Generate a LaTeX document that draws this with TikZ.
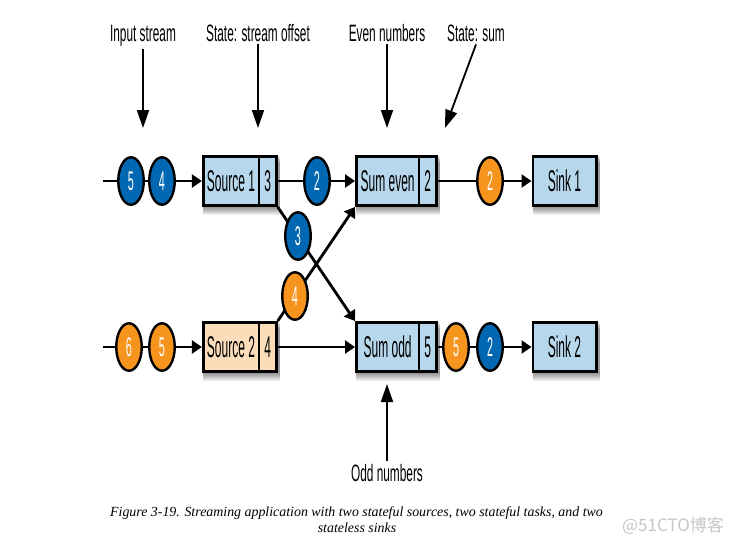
\documentclass[tikz,border=0pt]{standalone}
\usepackage{fontspec}
\setmainfont{Liberation Sans}
\newfontfamily\labfont[FakeStretch=0.5]{Liberation Sans}
\newfontfamily\boxfont[FakeStretch=0.4]{Liberation Sans}
\newfontfamily\capfont{Liberation Serif}
\newfontfamily\cjk{Noto Sans CJK SC}
\usetikzlibrary{arrows.meta,shapes.geometric}
\pgfdeclarelayer{shadowlayer}
\pgfdeclarelayer{background}
\pgfsetlayers{shadowlayer,background,main}
\definecolor{dotblue}{RGB}{0,103,178}
\definecolor{dotorange}{RGB}{247,148,30}
\definecolor{boxblue}{RGB}{183,215,236}
\definecolor{boxpeach}{RGB}{252,221,185}
\tikzset{
  opbox/.style={draw=black, line width=2.6pt, fill=boxblue, minimum height=49.4pt,
    inner sep=0pt, font=\boxfont\fontsize{30}{30}\selectfont},
  statebox/.style={opbox, minimum width=17.6pt, anchor=west, xshift=-2.6pt},
  token/.style={ellipse, draw=black, line width=2.4pt, minimum width=25.5pt,
    minimum height=47.5pt, inner sep=0pt, text=white,
    font=\boxfont\fontsize{27}{27}\selectfont},
  blue token/.style={token, fill=dotblue},
  orange token/.style={token, fill=dotorange},
  conn/.style={draw=black, line width=2.8pt},
  arr/.style={conn, -{Triangle[length=10pt,width=13pt]}},
  lab/.style={font=\labfont\fontsize{23.7}{24}\selectfont, anchor=base, inner sep=3pt},
  labarrow/.style={draw=black, line width=1.8pt, -{Triangle[length=18pt,width=12pt]}},
  captext/.style={font=\capfont\itshape\fontsize{13.9}{14}\selectfont, anchor=base, inner sep=0pt},
  shadowfill/.style={fill=black, opacity=0.06}
}
\begin{document}
\begin{tikzpicture}[x=1pt,y=-1pt]
\begin{pgfonlayer}{shadowlayer}
\fill[white] (0,0) rectangle (729,542);
\end{pgfonlayer}
\useasboundingbox (0,0) rectangle (729,542);

% boxes
\node[opbox, minimum width=55.6pt] (src1) at (231,181) {Source 1};
\node[statebox] (src1s) at (src1.east) {3};
\node[opbox, minimum width=62.6pt] (sumev) at (387.6,181) {Sum even};
\node[statebox] (sumevs) at (sumev.east) {2};
\node[opbox, minimum width=63.4pt] (sink1) at (564.5,181) {Sink 1};
\node[opbox, fill=boxpeach, minimum width=55.6pt] (src2) at (231,347) {Source 2};
\node[statebox, fill=boxpeach] (src2s) at (src2.east) {4};
\node[opbox, minimum width=62.6pt] (sumodd) at (387.6,347) {Sum odd};
\node[statebox] (sumodds) at (sumodd.east) {5};
\node[opbox, minimum width=63.4pt] (sink2) at (564.5,347) {Sink 2};

% tokens
\node[blue token] (t5a) at (131,181) {5};
\node[blue token] (t4a) at (162,181) {4};
\node[blue token] (t2a) at (317,181) {2};
\node[orange token] (t2b) at (490,181) {2};
\node[blue token] (t3) at (298,236) {3};
\node[orange token] (t4b) at (295,296) {4};
\node[orange token] (t6) at (129,347) {6};
\node[orange token] (t5b) at (162,347) {5};
\node[orange token] (t5c) at (456,347) {5};
\node[blue token] (t2c) at (490,347) {2};

\coordinate (in1) at (103,181);
\coordinate (in2) at (103,347);

% shadows
\begin{pgfonlayer}{shadowlayer}
\foreach \a/\b in {src1/src1s, sumev/sumevs, sink1/sink1, src2/src2s, sumodd/sumodds, sink2/sink2}{
  \foreach \k in {1,...,8}{
    \fill[shadowfill] ([xshift=1pt,yshift=-\k pt]\a.north west) rectangle ([xshift=2pt,yshift=-\k pt]\b.south east);
  }
}
\end{pgfonlayer}

% connectors
\begin{pgfonlayer}{background}
\draw[arr] (in1) -- (src1.west);
\draw[arr] (src1s.east) -- (sumev.west);
\draw[arr] (sumevs.east) -- (sink1.west);
\draw[arr] (in2) -- (src2.west);
\draw[arr] (src2s.east) -- (sumodd.west);
\draw[arr] (sumodds.east) -- (sink2.west);
\draw[arr] (src1s.south east) -- (sumodd.north west);
\draw[arr] (src2s.north east) -- (sumev.south west);
\end{pgfonlayer}

% labels
\node[lab] (lin) at (143,41) {Input stream};
\node[lab] (lstate) at (258,41) {State: stream offset};
\node[lab] (leven) at (387,41) {Even numbers};
\node[lab] (lsum) at (476,41) {State: sum};
\node[lab] (lodd) at (387,481) {Odd numbers};
\coordinate (ain) at (143,128);
\coordinate (astate) at (258,128);
\coordinate (aeven) at (387,128);
\coordinate (asum) at (445,128);
\coordinate (aodd) at (387,384);
\draw[labarrow] (lin.south) -- (ain);
\draw[labarrow] (lstate.south) -- (astate);
\draw[labarrow] (leven.south) -- (aeven);
\draw[labarrow] (lsum.south) -- (asum);
\draw[labarrow] (lodd.north) -- (aodd);

% caption
\node[captext] (cap1) at (356.5,516) {Figure 3-19. Streaming application with two stateful sources, two stateful tasks, and two};
\node[captext] (cap2) at (357,532) {stateless sinks};
\node[font=\cjk\fontsize{17}{17}\selectfont, text=black!22, anchor=base, inner sep=0pt] (wm) at (673,531) {@51CTO博客};
\end{tikzpicture}
\end{document}
